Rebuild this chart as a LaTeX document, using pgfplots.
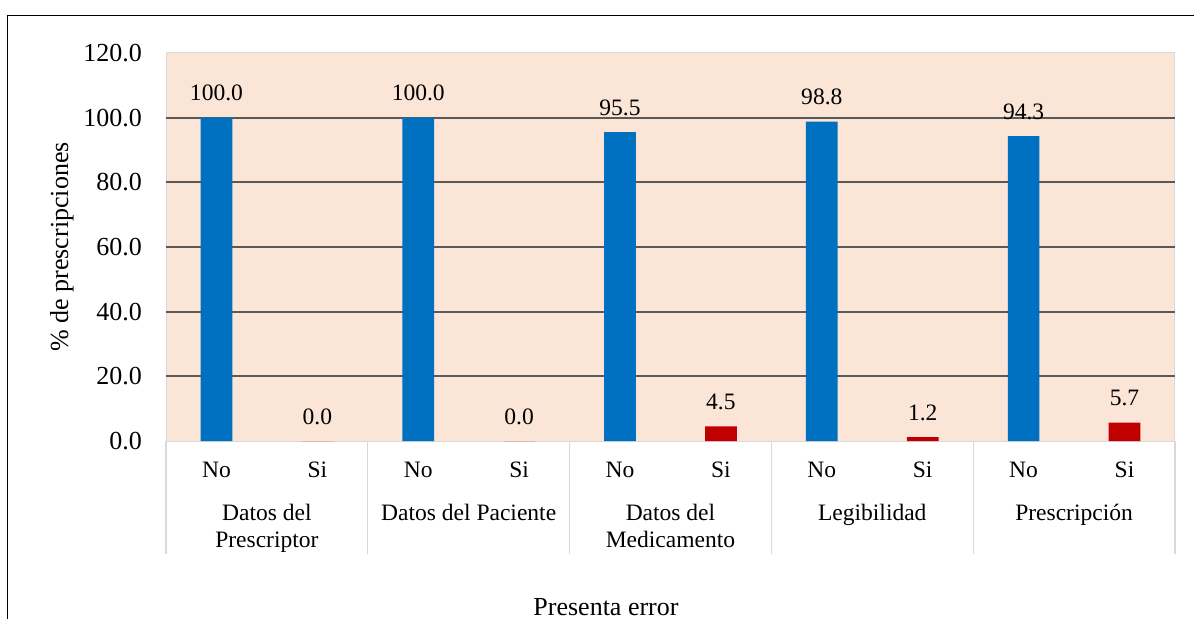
\documentclass[border=0pt]{standalone}
\usepackage{pgfplots}
\pgfplotsset{compat=1.18}
\usepackage{fontspec}
\setmainfont{Liberation Serif}
\definecolor{barblue}{HTML}{0070C0}
\definecolor{barred}{HTML}{C00000}
\definecolor{plotbg}{HTML}{FBE5D6}
\definecolor{gridc}{HTML}{595959}
\definecolor{sepc}{HTML}{D9D9D9}
\newcommand{\sm}{\fontsize{23.6}{28}\selectfont}
\newcommand{\bg}{\fontsize{26.1}{30}\selectfont}
\begin{document}
\begin{tikzpicture}
\useasboundingbox (0,0) rectangle (1194bp,619bp);
\draw[line width=1.3bp] (7.5bp,0) -- (7.5bp,603.5bp) -- (1194bp,603.5bp);
\begin{axis}[
 at={(166bp,178bp)}, anchor=south west,
 scale only axis, width=1009bp, height=388bp,
 xmin=-0.5, xmax=9.5, ymin=0, ymax=120,
 ybar, bar width=31.7bp, bar shift=0pt,
 axis background/.style={fill=plotbg},
 axis line style={draw=sepc, line width=1bp},
 xtick={0,...,9},
 xticklabels={No,Si,No,Si,No,Si,No,Si,No,Si},
 ytick={0,20,...,120},
 major tick length=0pt,
 extra y ticks={20,40,60,80,100}, extra y tick labels={},
 extra y tick style={grid=major, major grid style={draw=gridc, line width=2bp}},
 xticklabel style={font=\sm, anchor=base, inner sep=0pt, yshift=-36bp},
 yticklabel style={font=\bg, anchor=east, inner sep=0pt, xshift=-24bp},
 /pgf/number format/.cd, fixed, fixed zerofill, precision=1, assume math mode=true, /pgfplots/.cd,
 nodes near coords,
 nodes near coords style={font=\sm, anchor=base, inner sep=0pt, yshift=17bp},
 ylabel={\% de prescripciones},
 ylabel style={font=\bg, at={(axis description cs:-0.1031,0.5)}, anchor=center},
 xlabel={Presenta error},
 xlabel style={font=\bg, at={(axis description cs:0.4361,-0.4485)}, anchor=base},
 clip=false,
]
\addplot[fill=barblue, draw=none, bar shift=0pt] coordinates {(0,100) (2,100) (4,95.5) (6,98.8) (8,94.3)};
\addplot[fill=barred, draw=none, bar shift=0pt] coordinates {(1,0) (3,0) (5,4.5) (7,1.2) (9,5.7)};
\draw[sepc, line width=1.2bp] (axis cs:-0.5,0) -- ++(0pt,-113bp);
\draw[sepc, line width=1.2bp] (axis cs:1.5,0) -- ++(0pt,-113bp);
\draw[sepc, line width=1.2bp] (axis cs:3.5,0) -- ++(0pt,-113bp);
\draw[sepc, line width=1.2bp] (axis cs:5.5,0) -- ++(0pt,-113bp);
\draw[sepc, line width=1.2bp] (axis cs:7.5,0) -- ++(0pt,-113bp);
\draw[sepc, line width=1.2bp] (axis cs:9.5,0) -- ++(0pt,-113bp);
\node[font=\sm, anchor=base, yshift=-79bp] at (axis cs:0.5,0) {Datos del};
\node[font=\sm, anchor=base, yshift=-106bp] at (axis cs:0.5,0) {Prescriptor};
\node[font=\sm, anchor=base, yshift=-79bp] at (axis cs:2.5,0) {Datos del Paciente};
\node[font=\sm, anchor=base, yshift=-79bp] at (axis cs:4.5,0) {Datos del};
\node[font=\sm, anchor=base, yshift=-106bp] at (axis cs:4.5,0) {Medicamento};
\node[font=\sm, anchor=base, yshift=-79bp] at (axis cs:6.5,0) {Legibilidad};
\node[font=\sm, anchor=base, yshift=-79bp] at (axis cs:8.5,0) {Prescripción};
\end{axis}
\end{tikzpicture}
\end{document}
